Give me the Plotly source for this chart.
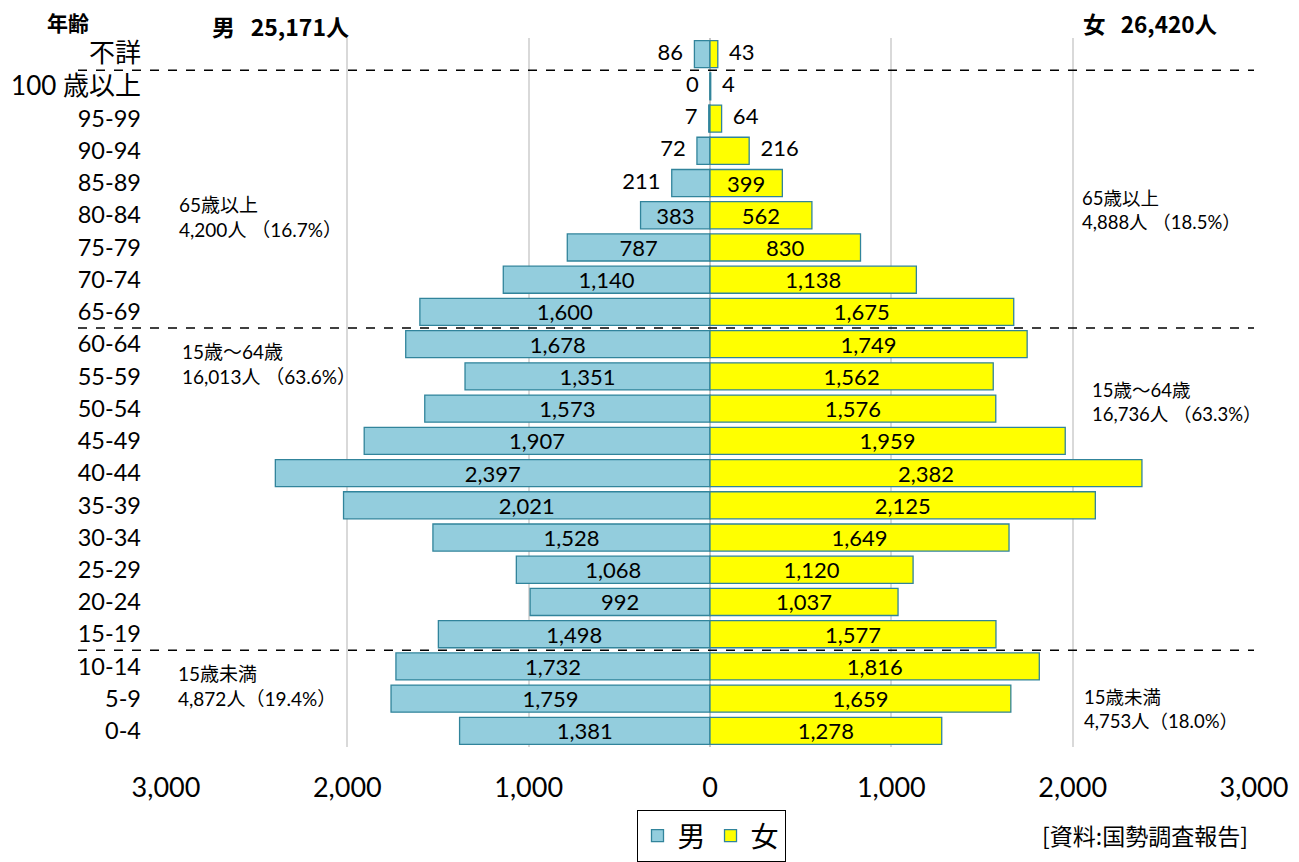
import plotly.graph_objects as go

age_groups = ["不詳", "100 歳以上", "95-99", "90-94", "85-89", "80-84", "75-79", "70-74",
              "65-69", "60-64", "55-59", "50-54", "45-49", "40-44", "35-39", "30-34",
              "25-29", "20-24", "15-19", "10-14", "5-9", "0-4"]
male = [86, 0, 7, 72, 211, 383, 787, 1140, 1600, 1678, 1351, 1573, 1907, 2397, 2021,
        1528, 1068, 992, 1498, 1732, 1759, 1381]
female = [43, 4, 64, 216, 399, 562, 830, 1138, 1675, 1749, 1562, 1576, 1959, 2382, 2125,
          1649, 1120, 1037, 1577, 1816, 1659, 1278]
x_tickvals = [-3000, -2000, -1000, 0, 1000, 2000, 3000]
x_ticktext = ["3,000", "2,000", "1,000", "0", "1,000", "2,000", "3,000"]
male_total = "男\u00a0\u00a0\u00a025,171人"
female_total = "女\u00a0\u00a0\u00a026,420人"
group_notes_left = ["65歳以上<br>4,200人 （16.7%）", "15歳〜64歳<br>16,013人 （63.6%）",
                    "15歳未満<br>4,872人（19.4%）"]
group_notes_right = ["65歳以上<br>4,888人 （18.5%）", "15歳〜64歳<br>16,736人 （63.3%）",
                     "15歳未満<br>4,753人（18.0%）"]
separators_after = ["不詳", "65-69", "15-19"]

# page offset (body margin) is 8px
OFF = 8
W, H = 1299 - OFF, 862 - OFF
L, R, T, B = 166 - OFF, 45, 38 - OFF, 115
PW, PH = W - L - R, H - T - B

def px(x):
    return (x - OFF - L) / PW

def py(y):
    return (OFF + T + PH - y) / PH

bar_font = "Liberation Sans Narrow, Arial Narrow, Lato, sans-serif"
num_font = "Lato, Noto Sans CJK JP, sans-serif"
jp_font = "Noto Sans CJK JP, sans-serif"
NB = "\u00a0\u00a0"
THRESH = 300  # labels of shorter bars sit outside the bar

def inside(v):
    return v >= THRESH

fig = go.Figure()
fig.add_trace(go.Bar(
    y=age_groups, x=[-v for v in male], orientation="h", name="男",
    marker=dict(color="#93CDDD", line=dict(color="#31849B", width=1.3)),
    text=[f"{v:,}" if inside(v) else "" for v in male],
    textposition=["inside" if inside(v) else "none" for v in male],
    insidetextanchor="middle", constraintext="none",
    textfont=dict(family=bar_font, size=22, color="black"),
    hoverinfo="skip",
))
fig.add_trace(go.Bar(
    y=age_groups, x=female, orientation="h", name="女",
    marker=dict(color="#FFFF00", line=dict(color="#31849B", width=1.3)),
    text=[f"{v:,}" if inside(v) else "" for v in female],
    textposition=["inside" if inside(v) else "none" for v in female],
    insidetextanchor="middle", constraintext="none",
    textfont=dict(family=bar_font, size=22, color="black"),
    hoverinfo="skip",
))

# labels for short bars, placed just beyond the bar end
m_out = [(a, v) for a, v in zip(age_groups, male) if not inside(v)]
f_out = [(a, v) for a, v in zip(age_groups, female) if not inside(v)]
fig.add_trace(go.Scatter(
    y=[a for a, _ in m_out], x=[-v for _, v in m_out], mode="text",
    text=[f"{v:,}" + NB for _, v in m_out], textposition="middle left",
    textfont=dict(family=bar_font, size=22, color="black"),
    showlegend=False, hoverinfo="skip", cliponaxis=False,
))
fig.add_trace(go.Scatter(
    y=[a for a, _ in f_out], x=[v for _, v in f_out], mode="text",
    text=[NB + f"{v:,}" for _, v in f_out], textposition="middle right",
    textfont=dict(family=bar_font, size=22, color="black"),
    showlegend=False, hoverinfo="skip", cliponaxis=False,
))

tick_text = []
for a in age_groups:
    if a in ("不詳", "100 歳以上"):
        tick_text.append(f'<span style="font-size:26px">{a}</span>')
    else:
        tick_text.append(a)

shapes = []
for s in separators_after:
    i = age_groups.index(s)
    shapes.append(dict(type="line", xref="paper", yref="y", x0=px(78), x1=1.0,
                       y0=i + 0.5, y1=i + 0.5,
                       line=dict(color="black", width=1.5, dash="dash")))

annotations = [
    dict(text="年齢", x=px(68), y=py(22), xref="paper", yref="paper", showarrow=False,
         xanchor="center", yanchor="middle",
         font=dict(family=jp_font, size=21, color="black", weight="bold")),
    dict(text=male_total, x=px(280), y=py(26), xref="paper", yref="paper", showarrow=False,
         xanchor="center", yanchor="middle",
         font=dict(family=jp_font, size=23, color="black", weight="bold")),
    dict(text=female_total, x=px(1150), y=py(23), xref="paper", yref="paper", showarrow=False,
         xanchor="center", yanchor="middle",
         font=dict(family=jp_font, size=22.5, color="black", weight="bold")),
    dict(text="[資料:国勢調査報告]", x=px(1040), y=py(835), xref="paper", yref="paper",
         xanchor="left", yanchor="middle", showarrow=False,
         font=dict(family=jp_font, size=23, color="black")),
]
left_pos = [(177, 217), (180, 364), (176, 686)]
right_pos = [(1080, 210), (1090, 402), (1082, 709)]
for txt, (xx, yy) in zip(group_notes_left, left_pos):
    annotations.append(dict(text=txt, x=px(xx), y=py(yy), xref="paper", yref="paper",
                            xanchor="left", yanchor="middle", align="left", showarrow=False,
                            font=dict(family=num_font, size=19, color="black")))
for txt, (xx, yy) in zip(group_notes_right, right_pos):
    annotations.append(dict(text=txt, x=px(xx), y=py(yy), xref="paper", yref="paper",
                            xanchor="left", yanchor="middle", align="left", showarrow=False,
                            font=dict(family=num_font, size=18.5, color="black")))

fig.update_layout(
    width=W, height=H,
    margin=dict(l=L, r=R, t=T, b=B, autoexpand=False),
    paper_bgcolor="white", plot_bgcolor="white",
    barmode="overlay", bargap=0.16,
    showlegend=True,
    legend=dict(orientation="h", x=px(711), y=py(836), xanchor="center", yanchor="middle",
                bordercolor="black", borderwidth=1, bgcolor="white",
                font=dict(family=jp_font, size=28, color="black"),
                itemwidth=30, traceorder="normal"),
    xaxis=dict(range=[-3000, 3000], tickvals=x_tickvals, ticktext=x_ticktext,
               showgrid=True, gridcolor="#D9D9D9", gridwidth=2,
               zeroline=True, zerolinecolor="#C8C8C8", zerolinewidth=2,
               showline=False, ticks="", ticklabelstandoff=22,
               tickfont=dict(family=num_font, size=27, color="black")),
    yaxis=dict(categoryorder="array", categoryarray=age_groups,
               range=[len(age_groups) - 0.5, -0.5], autorange=False,
               tickvals=age_groups, ticktext=tick_text,
               showgrid=False, zeroline=False, showline=False, ticks="",
               ticklabelstandoff=24,
               tickfont=dict(family=num_font, size=23.5, color="black")),
    shapes=shapes,
    annotations=annotations,
    font=dict(family=num_font),
)

fig.write_html("out.html")
